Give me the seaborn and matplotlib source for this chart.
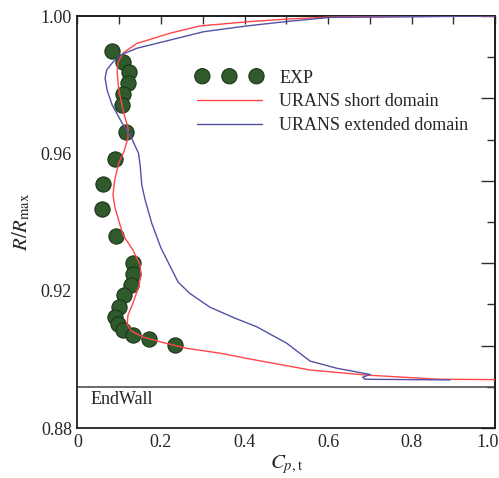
import numpy as np
import pandas as pd
import matplotlib
matplotlib.use("Agg")
import matplotlib.pyplot as plt
from matplotlib.ticker import MultipleLocator, FixedLocator, NullFormatter
import matplotlib.transforms as mtransforms
import seaborn as sns

# Experimental total-pressure coefficient profile
exp_cp = [0.082, 0.108, 0.124, 0.120, 0.110, 0.107, 0.116, 0.089, 0.062, 0.059, 0.093,
          0.132, 0.134, 0.128, 0.112, 0.099, 0.091, 0.096, 0.110, 0.134, 0.172, 0.234]
exp_r = [0.9898, 0.9866, 0.9836, 0.9804, 0.9772, 0.9740, 0.9661, 0.9584, 0.9510, 0.9438, 0.9360,
         0.9280, 0.9248, 0.9217, 0.9186, 0.9152, 0.9123, 0.9104, 0.9086, 0.9070, 0.9059, 0.9043]

# URANS, short computational domain
short_cp = [1.000, 0.605, 0.501, 0.405, 0.293, 0.222, 0.142, 0.110, 0.097, 0.095, 0.099,
            0.109, 0.121, 0.121, 0.111, 0.099, 0.089, 0.085, 0.090, 0.109, 0.133, 0.150,
            0.152, 0.147, 0.133, 0.121, 0.119, 0.128, 0.157, 0.198, 0.262, 0.341, 0.413,
            0.557, 0.693, 0.868, 1.000]
short_r = [1.0000, 0.9997, 0.9991, 0.9983, 0.9971, 0.9950, 0.9920, 0.9893, 0.9866, 0.9837, 0.9784,
           0.9726, 0.9674, 0.9645, 0.9604, 0.9572, 0.9522, 0.9479, 0.9441, 0.9362, 0.9318, 0.9275,
           0.9246, 0.9214, 0.9164, 0.9129, 0.9103, 0.9083, 0.9065, 0.9051, 0.9032, 0.9018, 0.9001,
           0.8969, 0.8954, 0.8942, 0.8941]

# URANS, extended computational domain
ext_cp = [1.000, 0.605, 0.501, 0.405, 0.301, 0.222, 0.142, 0.102, 0.085, 0.070, 0.066,
          0.071, 0.083, 0.107, 0.126, 0.146, 0.150, 0.154, 0.162, 0.178, 0.200, 0.224,
          0.241, 0.269, 0.317, 0.377, 0.429, 0.501, 0.557, 0.621, 0.701, 0.683, 0.689, 0.892]
ext_r = [1.0000, 0.9996, 0.9984, 0.9971, 0.9954, 0.9930, 0.9906, 0.9886, 0.9866, 0.9843, 0.9819,
         0.9784, 0.9741, 0.9688, 0.9653, 0.9601, 0.9566, 0.9508, 0.9464, 0.9396, 0.9324, 0.9266,
         0.9225, 0.9192, 0.9152, 0.9120, 0.9095, 0.9047, 0.8995, 0.8974, 0.8956, 0.8948, 0.8942, 0.8940]

endwall_r = 0.8919

x_ticks = [0, 0.2, 0.4, 0.6, 0.8, 1.0]
x_ticklabels = ["0", "0.2", "0.4", "0.6", "0.8", "1.0"]
y_ticks = [0.88, 0.92, 0.96, 1.00]
y_ticklabels = ["0.88", "0.92", "0.96", "1.00"]

sns.set_theme(style="white")
plt.rcParams["font.family"] = ["Liberation Serif", "DejaVu Serif"]
plt.rcParams["mathtext.fontset"] = "stix"

fs = 13
fig = plt.figure(figsize=(4.99, 4.78), dpi=100)
ax = fig.add_axes([0.1553, 0.1046, 0.8367, 0.8619])

exp_df = pd.DataFrame({"cp": exp_cp, "r": exp_r})
short_df = pd.DataFrame({"cp": short_cp, "r": short_r})
ext_df = pd.DataFrame({"cp": ext_cp, "r": ext_r})

sns.scatterplot(data=exp_df, x="cp", y="r", ax=ax, s=120, color="#2f5a2c",
                edgecolor="#1c351a", linewidth=0.8, label="EXP", zorder=2)
sns.lineplot(data=short_df, x="cp", y="r", ax=ax, sort=False, estimator=None,
             color="#ff4747", linewidth=1.0, label="URANS short domain", zorder=3)
sns.lineplot(data=ext_df, x="cp", y="r", ax=ax, sort=False, estimator=None,
             color="#5252a8", linewidth=1.0, label="URANS extended domain", zorder=3)

ax.axhline(endwall_r, color="#505050", linewidth=1.2, zorder=1)
ax.text(0.03, 0.8883, "EndWall", fontsize=fs, va="center", ha="left")

ax.set_xlim(0, 1.0)
ax.set_ylim(0.88, 1.00)

ax.set_xticks(x_ticks)
ax.set_xticklabels(x_ticklabels)
ax.set_yticks(y_ticks)
ax.set_yticklabels(y_ticklabels)
ax.xaxis.set_minor_locator(MultipleLocator(0.1))
ax.yaxis.set_minor_locator(MultipleLocator(0.02))
ax.tick_params(which="both", direction="in", top=False, right=False,
               labelsize=fs, color="#303030", width=1.0, pad=4)
ax.tick_params(which="major", length=10)
ax.tick_params(which="minor", length=6)

# keep the last x tick label inside the figure edge
last = ax.get_xticklabels()[-1]
last.set_horizontalalignment("right")
last.set_transform(last.get_transform() +
                   mtransforms.ScaledTranslation(4 / 100, 0, fig.dpi_scale_trans))

# Unlabelled ticks on the top and right frame
top = ax.secondary_xaxis("top")
top.set_xticks(np.arange(0, 1.01, 0.1))
top.xaxis.set_major_formatter(NullFormatter())
top.tick_params(direction="in", length=6, color="#303030", width=1.0)

right = ax.secondary_yaxis("right")
right.yaxis.set_major_locator(FixedLocator(np.arange(0.88, 1.0001, 0.024)))
right.yaxis.set_minor_locator(FixedLocator(np.arange(0.892, 1.0, 0.024)))
right.yaxis.set_major_formatter(NullFormatter())
right.tick_params(which="major", direction="in", length=10, color="#303030", width=1.0)
right.tick_params(which="minor", direction="in", length=6, color="#303030", width=1.0)

for a in (ax, top, right):
    for sp in a.spines.values():
        sp.set_color("#202020")
        sp.set_linewidth(1.3)

ax.set_xlabel(r"$C_{p,\mathrm{t}}$", fontsize=fs + 2, labelpad=2)
ax.set_ylabel(r"$R/R_{\mathrm{max}}$", fontsize=fs + 2, labelpad=6)

handles, labels = ax.get_legend_handles_labels()
order = [labels.index(l) for l in ["EXP", "URANS short domain", "URANS extended domain"]]
ax.legend([handles[i] for i in order], [labels[i] for i in order],
          loc="upper left", bbox_to_anchor=(0.286, 0.870), frameon=False,
          fontsize=fs, scatterpoints=3, scatteryoffsets=[0.5], handlelength=3.6,
          handletextpad=0.95, borderpad=0, borderaxespad=0, labelspacing=0.38)

fig.savefig("out.png", dpi=100)
